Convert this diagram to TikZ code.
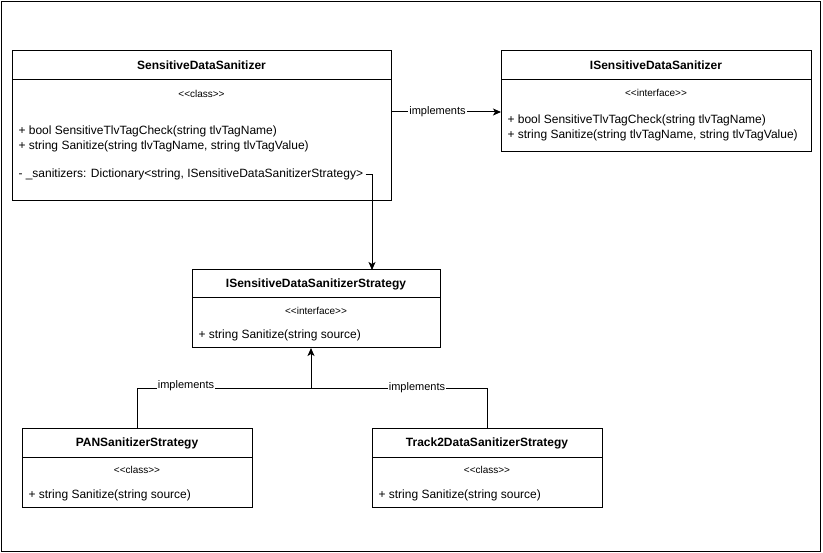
\documentclass[tikz,border=0pt]{standalone}
\usepackage{fontspec}
\setmainfont{Liberation Sans}
\usetikzlibrary{arrows.meta}

\begin{document}
\begin{tikzpicture}[x=1pt,y=-1pt,line width=1pt,
  titlebox/.style={draw,anchor=north west,inner sep=0pt,outer sep=0pt,font=\fontsize{12}{14}\selectfont\bfseries},
  bodybox/.style={draw,anchor=north,inner sep=0pt,outer sep=0pt},
  stereo/.style={inner sep=0pt,font=\fontsize{10}{12}\selectfont},
  member/.style={anchor=west,inner sep=0pt,font=\fontsize{12}{14}\selectfont},
  lbl/.style={fill=white,inner sep=1pt,font=\fontsize{11}{13}\selectfont},
  tip/.style={-{Stealth[length=8pt,width=7pt,inset=2pt]}}]
  \useasboundingbox (0,0) rectangle (823,553);
  \draw (1.5,1.5) rectangle (820.5,551.5);
  \node[titlebox,minimum width=379,minimum height=29] (sdsT) at (12,51) {SensitiveDataSanitizer};
  \node[bodybox,minimum width=379,minimum height=121] (sdsB) at (sdsT.south) {};
  \node[stereo] (sdsS) at (201.5,94) {{<}{<}class{>}{>}};
  \node[member] (sdsM1) at (18,131) {+ bool SensitiveTlvTagCheck(string tlvTagName)};
  \node[member] (sdsM2) at (18,146) {+ string Sanitize(string tlvTagName, string tlvTagValue)};
  \node[member] (sdsF) at (18,174) {- \_sanitizers: Dictionary{<}string, ISensitiveDataSanitizerStrategy{>}};
  \node[titlebox,minimum width=310,minimum height=29] (isdT) at (501,51) {ISensitiveDataSanitizer};
  \node[bodybox,minimum width=310,minimum height=72] (isdB) at (isdT.south) {};
  \node[stereo] (isdS) at (656,93) {{<}{<}interface{>}{>}};
  \node[member] (isdM1) at (507,120) {+ bool SensitiveTlvTagCheck(string tlvTagName)};
  \node[member] (isdM2) at (507,135) {+ string Sanitize(string tlvTagName, string tlvTagValue)};
  \node[titlebox,minimum width=248,minimum height=28] (strT) at (192,270) {ISensitiveDataSanitizerStrategy};
  \node[bodybox,minimum width=248,minimum height=50] (strB) at (strT.south) {};
  \node[stereo] (strS) at (316,311) {{<}{<}interface{>}{>}};
  \node[member] (strM) at (198,335) {+ string Sanitize(string source)};
  \node[titlebox,minimum width=230,minimum height=29] (panT) at (22,429) {PANSanitizerStrategy};
  \node[bodybox,minimum width=230,minimum height=50] (panB) at (panT.south) {};
  \node[stereo] (panS) at (137,470) {{<}{<}class{>}{>}};
  \node[member] (panM) at (28,495) {+ string Sanitize(string source)};
  \node[titlebox,minimum width=230,minimum height=29] (trkT) at (372,429) {Track2DataSanitizerStrategy};
  \node[bodybox,minimum width=230,minimum height=50] (trkB) at (trkT.south) {};
  \node[stereo] (trkS) at (487,470) {{<}{<}class{>}{>}};
  \node[member] (trkM) at (378,495) {+ string Sanitize(string source)};
  \coordinate (join) at (311,389);
  \draw[tip] (sdsB.east |- 0,112) -- (isdB.west |- 0,112);
  \node[lbl] (implA) at (437.5,112) {implements};
  \draw[tip,line width=0.9pt] ([xshift=2pt]sdsF.east) -| ([xshift=56pt]strT.north);
  \draw[tip] (panT.north) |- (join) -- (join |- strB.south);
  \draw (trkT.north) |- (join);
  \node[lbl] (implB) at (186,386) {implements};
  \node[lbl] (implC) at (417,387.5) {implements};
\end{tikzpicture}
\end{document}
